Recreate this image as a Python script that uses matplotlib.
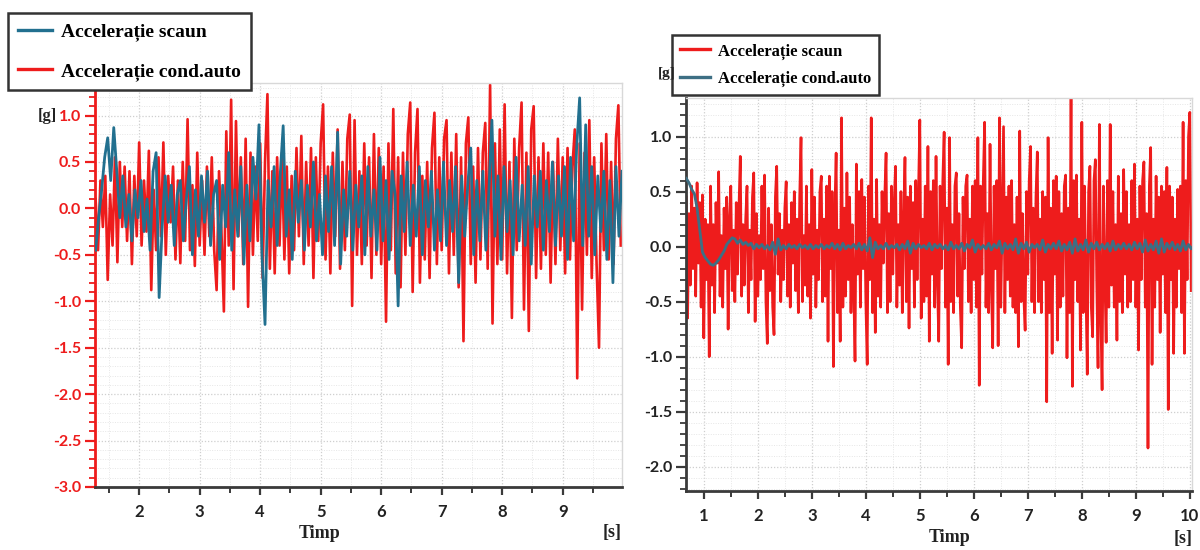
import numpy as np
import matplotlib
matplotlib.use("Agg")
import matplotlib.pyplot as plt
from matplotlib.ticker import MultipleLocator

# ---------------- data ----------------
# left chart: seat / driver acceleration, sampled from t = 1.28 s
left_t0, left_red_dt, left_blue_dt = 1.28, 0.04, 0.05
left_driver = [
    0.10, -0.45, 0.30, -0.20, 0.35, -0.77, 0.15, -0.40, 0.55, -0.58,
    0.50, -0.20, 0.45, -0.35, 0.40, -0.60, 0.35, -0.30, 0.71, -0.40,
    0.30, -0.25, 0.62, -0.88, 0.20, -0.45, 0.55, -0.30, 0.71, -0.50,
    0.35, -0.15, 0.45, -0.55, 0.30, -0.59, 0.50, -0.35, 0.96, -0.45,
    0.25, -0.62, 0.60, -0.40, 0.30, -0.50, 0.45, -0.30, 0.55, -0.45,
    -0.88, 0.40, -0.25, -1.11, 0.83, -0.40, 1.17, -0.87, 0.94, -0.30,
    0.55, -0.60, 0.75, -1.06, 0.60, -0.50, 0.45, -0.35, 0.70, -0.75,
    0.50, 1.23, -0.65, 0.40, -0.70, 0.55, -0.40, 0.60, -0.55, 0.45,
    -0.70, 0.35, -0.45, 0.65, -0.30, 0.78, -0.60, 0.50, -0.40, 0.65,
    -0.75, 0.55, -0.35, 0.70, 1.12, -0.55, 0.45, -0.70, 0.60, -0.30,
    0.85, -0.65, 0.50, -0.45, 0.75, 1.01, -1.05, 0.95, -0.50, 0.40,
    -0.60, 0.70, -0.40, 0.55, -0.75, 0.80, -0.50, 0.65, -0.60, 0.45,
    -1.22, 0.70, -0.45, 1.07, -0.70, 0.55, -0.85, 0.60, -0.50, 0.80,
    1.14, -0.90, 0.60, 1.07, -0.80, 0.35, -0.55, 0.50, -0.75, 0.65,
    1.03, -0.60, 0.55, -0.45, 0.75, 0.95, -0.70, 0.60, -0.50, 0.80,
    -0.85, 0.55, -1.43, 0.70, 0.98, -0.60, 0.45, -0.80, 0.65, -0.55,
    0.60, 0.92, -0.65, 1.33, -1.24, 0.70, -0.60, 0.85, -0.55, 1.12,
    -0.70, 0.50, -1.18, 0.75, -0.45, 0.65, 1.14, -1.09, 0.60, -1.32,
    0.85, 1.10, -0.75, 0.55, -0.65, 0.70, -0.50, 0.60, -0.80, 0.50,
    -0.60, 0.75, -0.45, 0.55, -0.70, 0.65, -0.55, 0.45, 0.85, -1.83,
    0.70, -1.09, 0.60, -0.50, 0.95, -0.75, 0.55, -0.60, -1.50, 0.70,
    -0.45, 0.80, -0.55, 0.50, -0.60, 0.75, 1.11, -0.40,
]
left_seat = [
    -0.45, -0.10, 0.20, 0.55, 0.76, 0.30, 0.87, 0.40, -0.10, 0.35,
    -0.20, 0.15, -0.35, 0.20, -0.10, 0.30, -0.25, 0.10, -0.45, 0.40,
    0.60, -0.96, -0.20, 0.35, -0.15, 0.25, -0.40, 0.15, 0.30, -0.35,
    0.10, 0.45, -0.50, 0.20, -0.30, 0.35, -0.15, 0.40, -0.40, 0.15,
    0.30, -0.55, 0.25, -0.20, 0.60, -0.45, 0.20, -0.30, 0.45, -0.60,
    0.25, -0.35, 0.55, 0.10, 0.90, -0.50, -1.25, 0.30, -0.20, 0.45,
    -0.40, 0.35, 0.89, -0.30, 0.20, -0.55, 0.40, -0.15, 0.30, -0.45,
    0.25, -0.20, 0.50, -0.35, 0.15, -0.50, 0.35, -0.25, 0.45, -0.40,
    0.82, -0.60, 0.20, -0.30, 0.40, -0.45, 0.25, -0.20, 0.35, -0.50,
    0.45, -0.30, 0.20, -0.45, 0.55, -0.35, 0.30, -0.55, 0.40, 0.15,
    -1.05, 0.35, -0.25, 0.50, -0.40, 0.25, -0.30, 0.45, -0.50, 0.30,
    -0.20, 0.40, -0.45, 0.20, -0.35, 0.50, -0.40, 0.30, -0.25, 0.45,
    -0.80, 0.35, -0.30, 0.25, 0.65, -0.50, 0.30, -0.35, 0.40, -0.45,
    0.20, 0.95, -0.30, 0.35, -0.55, 0.45, -0.25, 0.30, -0.50, 0.55,
    -0.35, 0.25, -0.40, 0.45, -0.60, 0.35, -0.20, 0.40, -0.45, 0.30,
    -0.25, 0.50, -0.40, 0.35, -0.30, 0.45, -0.55, 0.55, -0.35, 0.65,
    1.19, -0.40, 0.90, -0.30, 0.45, -0.50, 0.35, -0.25, 0.40, -0.55,
    0.30, -0.80, 0.45, -0.30, 0.40,
]

# right chart: seat / driver acceleration, sampled from t = 0.675 s
right_t0, right_red_dt, right_blue_dt = 0.675, 0.025, 0.05
right_seat = [
    0.45, -0.65, 0.30, -0.35, 0.55, -0.20, 0.35, -0.45, 0.58, -0.15,
    0.40, -0.55, 0.47, -0.83, 0.25, -0.30, 0.20, -1.00, 0.55, -0.35,
    0.20, -0.60, 0.40, -0.15, 0.68, -0.45, 0.10, -0.55, 0.35, -0.20,
    0.45, -0.75, 0.25, 0.55, -0.40, 0.15, -0.50, 0.40, -0.25, 0.35,
    0.82, -0.45, 0.20, -0.35, 0.25, 0.55, -0.60, 0.15, -0.30, 0.45,
    0.67, -0.68, 0.30, -0.45, 0.10, -0.30, 0.55, -0.20, 0.65, -0.50,
    -0.88, 0.35, -0.40, 0.20, -0.55, -0.80, 0.45, 0.73, -0.25, 0.30,
    -0.50, 0.15, -0.30, 0.35, 0.59, -0.45, 0.20, -0.55, 0.40, -0.15,
    0.50, -0.40, 0.25, -0.60, 0.45, 0.99, -0.50, 0.10, -0.35, 0.55,
    -0.45, 0.20, -0.65, 0.70, -0.25, 0.45, -0.55, 0.15, -0.30, 0.50,
    0.64, -0.50, 0.25, -0.45, 0.55, -0.86, 0.64, -0.20, 0.50, -1.09,
    0.30, 0.85, -0.60, 0.15, -0.86, 1.17, -0.55, 0.35, -0.45, 0.67,
    -0.30, 0.45, -0.60, 0.20, -0.35, -1.04, 0.75, -0.25, 0.50, -0.55,
    0.61, -0.20, 0.45, -0.50, -1.07, 0.55, -0.30, 1.17, -0.60, 0.25,
    -0.78, 0.61, -0.45, 0.20, -0.55, 0.50, -0.15, 0.45, 0.85, -0.60,
    0.30, -0.50, 0.55, -0.25, 0.40, 0.73, -0.55, 0.20, -0.35, 0.50,
    -0.60, 0.25, 0.81, -0.50, 0.45, -0.74, 0.55, -0.20, 0.40, -0.55,
    0.60, -0.30, 0.50, 1.15, -0.65, 0.25, -0.50, 0.55, -0.45, 0.91,
    -0.86, 0.50, -0.25, 0.60, -0.55, 0.82, -0.30, -0.86, 0.55, -0.20,
    0.60, 1.04, -0.55, 0.35, -1.07, 0.99, -0.50, 0.20, -0.60, 0.55,
    0.67, -0.45, 0.30, -0.55, -0.92, 0.45, -0.20, 0.55, 0.65, -0.50,
    0.25, -0.60, 0.55, -0.30, 0.60, -0.55, 0.99, -1.26, 0.55, -0.25,
    0.60, 1.13, -0.55, 0.30, -0.60, 0.93, -0.35, -0.92, 0.55, -0.20,
    0.60, -0.90, 1.17, -0.55, 0.25, 1.09, -0.60, 0.45, -0.30, 0.55,
    -0.45, 0.60, -0.55, 0.20, -0.60, 0.45, -0.91, 1.05, -0.50, 0.30,
    -0.45, -0.76, 0.50, -0.25, 0.60, 0.91, -0.50, 0.35, -0.60, 0.45,
    0.86, -0.50, 0.25, -0.60, 0.50, -0.30, 0.45, -1.41, 0.99, -0.60,
    0.35, -0.97, 0.60, -0.25, 0.64, -0.85, 0.50, -0.55, 0.30, -0.45,
    0.55, 0.65, -1.01, 0.35, -0.60, 1.35, -1.27, 0.60, -0.30, 0.65,
    -0.50, 0.25, -0.94, 1.13, -0.60, 0.55, -0.35, -1.16, 0.50, 0.73,
    -0.55, -0.82, 0.60, 0.79, -0.30, -1.10, 1.11, -0.60, -1.30, 0.55,
    -0.25, -0.87, 0.60, -0.55, 1.11, -0.35, 0.50, -0.55, 0.20, -0.85,
    0.64, -0.50, 0.30, -0.60, 0.70, -0.25, 0.50, -0.55, 0.20, -0.50,
    0.60, -0.30, 0.75, -0.55, 0.25, -0.94, 0.55, -0.30, 0.60, 0.77,
    -0.55, 0.30, -1.83, 0.55, 0.90, -1.07, 0.25, -0.55, 0.64, -0.30,
    0.45, -0.78, 0.55, -0.25, 0.50, -0.60, 0.72, -1.48, 0.55, -0.30,
    0.45, -0.97, 0.25, -0.55, 0.52, -0.20, 0.55, -0.60, 1.13, -0.97,
    0.60, -0.30, 1.00, 1.22, -0.40,
]
right_driver = [
    0.62, 0.58, 0.52, 0.48, 0.35, 0.15, -0.05, -0.10, -0.13, -0.16,
    -0.17, -0.15, -0.12, -0.08, -0.04, 0.02, 0.05, 0.08, 0.07, 0.03,
    0.06, 0.02, 0.04, 0.01, 0.03, -0.02, 0.02, -0.01, 0.02, -0.02,
    0.01, -0.03, 0.04, -0.07, 0.07, -0.03, 0.01, -0.02, 0.02, -0.01,
    0.01, -0.02, 0.02, -0.01, 0.01, -0.02, 0.02, -0.02, 0.01, -0.01,
    0.02, -0.02, 0.01, -0.01, 0.03, -0.02, 0.02, -0.03, 0.03, -0.02,
    0.01, -0.01, 0.02, -0.02, 0.03, -0.03, 0.02, -0.04, 0.08, -0.10,
    0.04, -0.02, 0.01, -0.02, 0.03, -0.02, 0.01, -0.01, 0.02, -0.03,
    0.02, -0.02, 0.05, -0.06, 0.03, -0.02, 0.02, -0.01, 0.01, -0.02,
    0.03, -0.03, 0.02, -0.01, 0.02, -0.02, 0.01, -0.03, 0.04, -0.02,
    0.01, -0.02, 0.03, -0.04, 0.02, -0.01, 0.06, -0.05, 0.02, -0.02,
    0.01, -0.02, 0.03, -0.03, 0.02, -0.01, 0.05, -0.06, 0.03, -0.02,
    0.02, -0.03, 0.07, -0.06, 0.03, -0.02, 0.04, -0.05, 0.02, -0.01,
    0.02, -0.03, 0.06, -0.05, 0.02, -0.02, 0.03, -0.02, 0.05, -0.04,
    0.02, -0.03, 0.04, -0.06, 0.07, -0.04, 0.02, -0.03, 0.06, -0.05,
    0.03, -0.02, 0.04, -0.03, 0.02, -0.02, 0.03, -0.04, 0.05, -0.03,
    0.02, -0.02, 0.03, -0.02, 0.02, -0.03, 0.04, -0.02, 0.03, -0.05,
    0.06, -0.04, 0.02, -0.03, 0.05, -0.06, 0.07, -0.05, 0.03, -0.02,
    0.04, -0.03, 0.02, -0.04, 0.05, -0.03, 0.02, -0.02, 0.01, -0.01,
]

left_yticks = [-3.0, -2.5, -2.0, -1.5, -1.0, -0.5, 0.0, 0.5, 1.0]
right_yticks = [-2.0, -1.5, -1.0, -0.5, 0.0, 0.5, 1.0]
left_xticks = [2, 3, 4, 5, 6, 7, 8, 9]
right_xticks = [1, 2, 3, 4, 5, 6, 7, 8, 9, 10]

label_seat = "Accelerație scaun"
label_driver = "Accelerație cond.auto"

# ---------------- style ----------------
RED = "#ee1c1c"
BLUE_L = "#22708f"
BLUE_R = "#3d6f84"
SPINE = "#3a3a3a"
TICK_FONT = "Lato"
SERIF = "Liberation Serif"

fig = plt.figure(figsize=(12, 5.5), dpi=100)
fig.patch.set_facecolor("white")


def style_axes(ax, yspine_color, ytick_color):
    for side in ("top", "right"):
        ax.spines[side].set_color("#d8d8d8")
        ax.spines[side].set_linewidth(1.0)
    ax.spines["left"].set_color(yspine_color)
    ax.spines["left"].set_linewidth(2.0)
    ax.spines["bottom"].set_color(SPINE)
    ax.spines["bottom"].set_linewidth(2.0)
    ax.yaxis.set_minor_locator(MultipleLocator(0.1))
    ax.xaxis.set_minor_locator(MultipleLocator(0.5))
    ax.tick_params(axis="y", which="major", length=7, width=1.6,
                   color=yspine_color, labelcolor=ytick_color, pad=3)
    ax.tick_params(axis="y", which="minor", length=4, width=1.3,
                   color=yspine_color)
    ax.tick_params(axis="x", which="major", length=6, width=1.6,
                   color=SPINE, labelcolor="#222222", pad=6)
    ax.tick_params(axis="x", which="minor", length=4, width=1.4, color=SPINE)
    ax.grid(which="major", color="#cfcfcf", linestyle=(0, (1, 1.5)), linewidth=0.9)
    ax.grid(which="minor", color="#e6e6e6", linestyle=(0, (1, 1.5)), linewidth=0.7)
    ax.set_axisbelow(True)
    for lab in ax.get_xticklabels():
        lab.set_fontfamily(TICK_FONT)
        lab.set_fontweight("bold")
        lab.set_fontsize(12)
    for lab in ax.get_yticklabels():
        lab.set_fontfamily(TICK_FONT)
        lab.set_fontweight("bold")
        lab.set_fontsize(11.5)


def make_legend(ax, handles, labels, anchor, size, spacing, pad):
    leg = ax.legend(handles, labels, loc="upper left", bbox_to_anchor=anchor,
                    bbox_transform=fig.transFigure, borderaxespad=0.0,
                    frameon=True, fancybox=False, framealpha=1.0,
                    borderpad=pad, handlelength=1.75, handletextpad=0.5,
                    labelspacing=spacing,
                    prop={"family": SERIF, "weight": "bold", "size": size})
    leg.get_frame().set_edgecolor("#333333")
    leg.get_frame().set_linewidth(1.8)
    for h in leg.get_lines():
        h.set_linewidth(2.4)
    leg.set_zorder(10)
    return leg


# ---------- left chart ----------
axL = fig.add_axes([95 / 1200, 1 - 487 / 550, (622 - 95) / 1200, (487 - 83) / 550])
tLr = left_t0 + left_red_dt * np.arange(len(left_driver))
tLb = left_t0 + left_blue_dt * np.arange(len(left_seat))
lb, = axL.plot(tLb, left_seat, color=BLUE_L, linewidth=2.0, zorder=3)
lr, = axL.plot(tLr, left_driver, color=RED, linewidth=1.9, zorder=2.5)
axL.set_xlim(1.27, 9.98)
axL.set_ylim(-3.0, 1.35)
axL.set_xticks(left_xticks)
axL.set_yticks(left_yticks)
axL.set_yticklabels([f"{v:.1f}" for v in left_yticks])
style_axes(axL, RED, RED)

make_legend(axL, [lb, lr], [label_seat, label_driver],
            (8 / 1200, 1 - 13 / 550), 14, 1.1, 0.5)

fig.text(57 / 1200, 1 - 116 / 550, "[g]", ha="right", va="center",
         fontfamily=SERIF, fontweight="bold", fontsize=12, color="#222222")
fig.text(320 / 1200, 1 - 533 / 550, "Timp", ha="center", va="center",
         fontfamily=SERIF, fontweight="bold", fontsize=13, color="#222222")
fig.text(612 / 1200, 1 - 533 / 550, "[s]", ha="center", va="center",
         fontfamily=SERIF, fontweight="bold", fontsize=13, color="#222222")

# ---------- right chart ----------
axR = fig.add_axes([686 / 1200, 1 - 491 / 550, (1192 - 686) / 1200, (491 - 98) / 550])
tRr = right_t0 + right_red_dt * np.arange(len(right_seat))
tRb = right_t0 + right_blue_dt * np.arange(len(right_driver))
rr, = axR.plot(tRr, right_seat, color=RED, linewidth=1.9, zorder=2.5)
rb, = axR.plot(tRb, right_driver, color=BLUE_R, linewidth=2.0, zorder=3)
axR.set_xlim(0.67, 10.04)
axR.set_ylim(-2.22, 1.35)
axR.set_xticks(right_xticks)
axR.set_yticks(right_yticks)
axR.set_yticklabels([f"{v:.1f}" for v in right_yticks])
style_axes(axR, SPINE, "#222222")

fig.text(667 / 1200, 1 - 74 / 550, "[g]", ha="center", va="center",
         fontfamily=SERIF, fontweight="bold", fontsize=11, color="#222222",
         zorder=1)
make_legend(axR, [rr, rb], [label_seat, label_driver],
            (672 / 1200, 1 - 35 / 550), 12, 0.65, 0.5)

fig.text(950 / 1200, 1 - 538 / 550, "Timp", ha="center", va="center",
         fontfamily=SERIF, fontweight="bold", fontsize=13, color="#222222")
fig.text(1183 / 1200, 1 - 538 / 550, "[s]", ha="center", va="center",
         fontfamily=SERIF, fontweight="bold", fontsize=13, color="#222222")

fig.savefig("out.png", dpi=100, facecolor="white")
